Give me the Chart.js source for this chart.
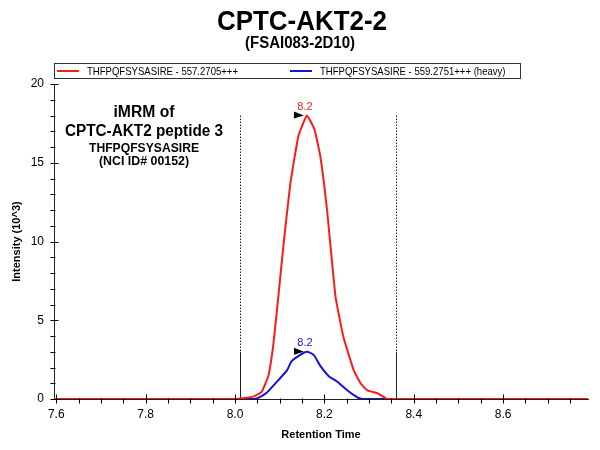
<!DOCTYPE html>
<html><head><meta charset="utf-8">
<script src="https://cdn.jsdelivr.net/npm/chart.js@4.4.0/dist/chart.umd.min.js"></script>
<style>html,body{margin:0;padding:0;background:#fff}#wrap{width:600px;height:450px}</style>
</head><body><div id="wrap"><canvas id="c" width="600" height="450"></canvas></div>
<script>
const titleText = "CPTC-AKT2-2";
const subtitleText = "(FSAI083-2D10)";
const annotationLines = ["iMRM of", "CPTC-AKT2 peptide 3", "THFPQFSYSASIRE", "(NCI ID# 00152)"];
const lightLabel = "THFPQFSYSASIRE - 557.2705+++";
const heavyLabel = "THFPQFSYSASIRE - 559.2751+++ (heavy)";
const lightTimes = [7.59, 8.00, 8.041, 8.060, 8.075, 8.086, 8.097, 8.109, 8.124, 8.142, 8.161, 8.178, 8.191, 8.206, 8.225, 8.243, 8.266, 8.281, 8.296, 8.318, 8.341, 8.40, 8.79];
const lightValues = [0, 0, 0.15, 0.46, 1.5, 3.5, 6.5, 9.9, 13.7, 16.7, 18.0, 17.1, 15.4, 12.0, 6.5, 3.9, 1.8, 1.0, 0.55, 0.38, 0, 0, 0];
const heavyTimes = [7.59, 8.00, 8.045, 8.071, 8.097, 8.116, 8.127, 8.146, 8.161, 8.176, 8.191, 8.210, 8.229, 8.251, 8.274, 8.285, 8.40, 8.79];
const heavyValues = [0, 0, 0, 0.4, 1.2, 1.8, 2.4, 2.8, 3.0, 2.8, 2.1, 1.45, 1.1, 0.55, 0.1, 0, 0, 0];
const boundaryTimes = [8.011, 8.360];
const peakLabel = "8.2";
const xLabelTicks = [7.6, 7.8, 8.0, 8.2, 8.4, 8.6];
const yLabelTicks = [0, 5, 10, 15, 20];

const F = '"Liberation Sans", Arial, sans-serif';
const toPts = (t, v) => t.map((x, i) => ({x: x, y: v[i]}));

function fitText(ctx, text, x, cy, font, width, align) {
  ctx.font = font;
  const w = ctx.measureText(text).width;
  const sx = width / w;
  ctx.save();
  ctx.translate(x, cy);
  ctx.scale(sx, 1);
  ctx.textAlign = align || 'center';
  ctx.textBaseline = 'middle';
  ctx.fillText(text, 0, 0);
  ctx.restore();
}

const decor = {
  id: 'decor',
  beforeDatasetsDraw(chart) {
    const ctx = chart.ctx, xs = chart.scales.x, ys = chart.scales.y;
    ctx.save();
    ctx.strokeStyle = '#222';
    ctx.lineWidth = 1;
    boundaryTimes.forEach(t => {
      const px = Math.round(xs.getPixelForValue(t)) + 0.5;
      const ySolid = ys.getPixelForValue(3.0);
      ctx.setLineDash([1.5, 1.5]);
      ctx.beginPath(); ctx.moveTo(px, ys.getPixelForValue(18.0)); ctx.lineTo(px, ySolid); ctx.stroke();
      ctx.setLineDash([]);
      ctx.beginPath(); ctx.moveTo(px, ySolid); ctx.lineTo(px, ys.bottom); ctx.stroke();
    });
    ctx.restore();
  },
  afterDraw(chart) {
    const ctx = chart.ctx, xs = chart.scales.x, ys = chart.scales.y;
    // tick marks
    ctx.save();
    ctx.setLineDash([]);
    ctx.strokeStyle = '#000'; ctx.lineWidth = 1;
    const ax = Math.round(xs.left) + 0.5;
    for (let v = 0; v <= 20; v++) {
      const py = Math.round(ys.getPixelForValue(v)) + 0.5;
      const major = v % 5 === 0;
      ctx.beginPath(); ctx.moveTo(ax - 4, py); ctx.lineTo(ax + (major ? 4 : 1), py); ctx.stroke();
    }
    const by = Math.round(ys.bottom) + 0.5;
    for (let k = 0; k <= 23; k++) {
      const t = Math.round((7.6 + 0.05 * k) * 100) / 100;
      const px = Math.round(xs.getPixelForValue(t)) + 0.5;
      const major = k % 4 === 0;
      ctx.beginPath(); ctx.moveTo(px, by - (major ? 5 : 1)); ctx.lineTo(px, by + 4); ctx.stroke();
    }
    ctx.restore();

    ctx.save();
    ctx.fillStyle = '#000';
    // titles
    fitText(ctx, titleText, 302, 22, 'bold 28px ' + F, 170);
    fitText(ctx, subtitleText, 300, 44, 'bold 16px ' + F, 110);
    // legend box
    ctx.strokeStyle = '#333'; ctx.lineWidth = 1;
    ctx.strokeRect(54.5, 63.5, 466, 15);
    ctx.font = '11px ' + F;
    const sx = 151 / ctx.measureText(lightLabel).width;
    chart.data.datasets.forEach((ds, i) => {
      const lx = i === 0 ? 57 : 290, tx = i === 0 ? 87 : 320;
      ctx.strokeStyle = ds.borderColor; ctx.lineWidth = 2;
      ctx.beginPath(); ctx.moveTo(lx, 71); ctx.lineTo(lx + 22, 71); ctx.stroke();
      ctx.fillStyle = '#000';
      ctx.font = '11px ' + F;
      fitText(ctx, ds.label, tx, 71.5, '11px ' + F, ctx.measureText(ds.label).width * sx, 'left');
    });
    // annotation
    ctx.fillStyle = '#000';
    fitText(ctx, annotationLines[0], 144, 113, 'bold 16px ' + F, 61);
    fitText(ctx, annotationLines[1], 144, 132, 'bold 16px ' + F, 158);
    fitText(ctx, annotationLines[2], 144, 148, 'bold 13px ' + F, 110);
    fitText(ctx, annotationLines[3], 144, 162, 'bold 12px ' + F, 90);
    // peak labels and arrows
    chart.data.datasets.forEach((ds, i) => {
      let best = ds.data[0];
      ds.data.forEach(p => { if (p.y > best.y) best = p; });
      const px = xs.getPixelForValue(best.x), py = ys.getPixelForValue(best.y);
      ctx.fillStyle = ds.borderColor; ctx.font = '11px ' + F; ctx.textAlign = 'center'; ctx.textBaseline = 'middle';
      ctx.fillText(peakLabel, px - 2, py - 9);
      ctx.fillStyle = '#000';
      ctx.beginPath(); ctx.moveTo(px - 13, py - 4); ctx.lineTo(px - 3, py); ctx.lineTo(px - 13, py + 3); ctx.closePath(); ctx.fill();
    });
    ctx.restore();
  }
};

new Chart(document.getElementById('c'), {
  type: 'line',
  data: {
    datasets: [
      {label: lightLabel, data: toPts(lightTimes, lightValues), borderColor: '#ff1a1a', borderWidth: 2, pointRadius: 0, tension: 0.12, fill: false},
      {label: heavyLabel, data: toPts(heavyTimes, heavyValues), borderColor: '#1414d2', borderWidth: 2, pointRadius: 0, tension: 0.2, fill: false}
    ]
  },
  plugins: [decor],
  options: {
    responsive: false, animation: false, devicePixelRatio: 1,
    layout: {padding: {top: 84, right: 12, left: 0, bottom: 0}},
    plugins: {legend: {display: false}, title: {display: false}, tooltip: {enabled: false}},
    scales: {
      x: {
        type: 'linear', min: 7.595, max: 8.79,
        afterBuildTicks: s => { s.ticks = xLabelTicks.map(v => ({value: v})); },
        afterFit: s => { s.height = 51; },
        grid: {display: false, drawTicks: false},
        border: {display: true, color: '#222', width: 1},
        ticks: {color: '#000', font: {family: F, size: 12}, padding: 8, maxRotation: 0, autoSkip: false, callback: v => v.toFixed(1)},
        title: {display: true, text: 'Retention Time', color: '#000', font: {family: F, size: 11, weight: 'bold'}, padding: {top: 0, bottom: 8}}
      },
      y: {
        min: 0, max: 20,
        afterBuildTicks: s => { s.ticks = yLabelTicks.map(v => ({value: v})); },
        afterFit: s => { s.width = 54; },
        grid: {display: false, drawTicks: false},
        border: {display: true, color: '#222', width: 1},
        ticks: {color: '#000', font: {family: F, size: 12}, padding: 10, callback: v => String(v)},
        title: {display: true, text: 'Intensity (10^3)', color: '#000', font: {family: F, size: 11, weight: 'bold'}, padding: {top: 10, bottom: 4}}
      }
    }
  }
});
</script></body></html>
